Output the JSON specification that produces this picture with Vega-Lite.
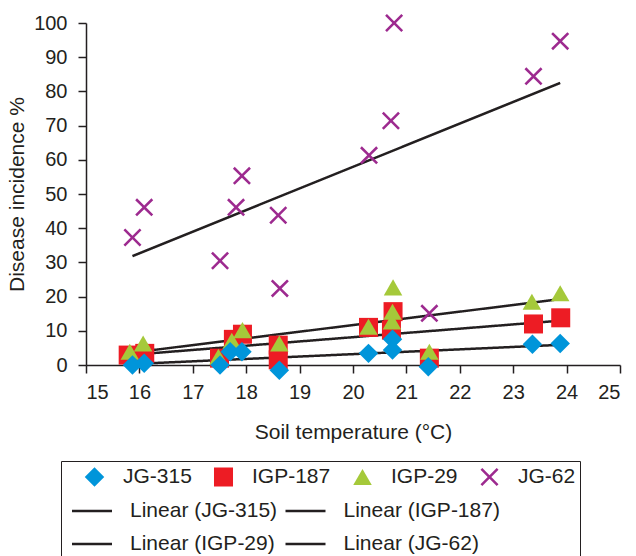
{
  "$schema": "https://vega.github.io/schema/vega-lite/v6.json",
  "width": 534,
  "height": 342,
  "autosize": {"type": "none"},
  "padding": {"left": 86, "top": 23, "right": 16, "bottom": 191},
  "background": "white",
  "config": {
    "font": "Liberation Sans",
    "view": {"stroke": null},
    "axis": {
      "grid": false,
      "domainColor": "#231f20",
      "domainWidth": 1.5,
      "tickColor": "#231f20",
      "tickWidth": 1.5,
      "tickSize": 8,
      "labelFontSize": 20,
      "labelColor": "#231f20",
      "titleFontSize": 21,
      "titleFontWeight": "normal",
      "titleColor": "#231f20"
    }
  },
  "data": {
    "values": [
      {"series": "IGP-187", "trend": "Linear (IGP-187)", "temp": 15.79, "incidence": 2.9},
      {"series": "IGP-187", "trend": "Linear (IGP-187)", "temp": 16.10, "incidence": 3.4},
      {"series": "IGP-187", "trend": "Linear (IGP-187)", "temp": 17.50, "incidence": 2.0},
      {"series": "IGP-187", "trend": "Linear (IGP-187)", "temp": 17.76, "incidence": 7.5},
      {"series": "IGP-187", "trend": "Linear (IGP-187)", "temp": 17.93, "incidence": 9.0},
      {"series": "IGP-187", "trend": "Linear (IGP-187)", "temp": 18.60, "incidence": 5.8},
      {"series": "IGP-187", "trend": "Linear (IGP-187)", "temp": 18.60, "incidence": 1.5},
      {"series": "IGP-187", "trend": "Linear (IGP-187)", "temp": 20.29, "incidence": 11.0},
      {"series": "IGP-187", "trend": "Linear (IGP-187)", "temp": 20.75, "incidence": 15.6},
      {"series": "IGP-187", "trend": "Linear (IGP-187)", "temp": 20.72, "incidence": 10.2},
      {"series": "IGP-187", "trend": "Linear (IGP-187)", "temp": 21.43, "incidence": 2.0},
      {"series": "IGP-187", "trend": "Linear (IGP-187)", "temp": 23.38, "incidence": 12.0},
      {"series": "IGP-187", "trend": "Linear (IGP-187)", "temp": 23.89, "incidence": 13.8},
      {"series": "IGP-29", "trend": "Linear (IGP-29)", "temp": 15.82, "incidence": 3.9},
      {"series": "IGP-29", "trend": "Linear (IGP-29)", "temp": 16.07, "incidence": 6.3},
      {"series": "IGP-29", "trend": "Linear (IGP-29)", "temp": 17.48, "incidence": 2.4},
      {"series": "IGP-29", "trend": "Linear (IGP-29)", "temp": 17.73, "incidence": 7.1},
      {"series": "IGP-29", "trend": "Linear (IGP-29)", "temp": 17.93, "incidence": 10.2},
      {"series": "IGP-29", "trend": "Linear (IGP-29)", "temp": 18.62, "incidence": 6.3},
      {"series": "IGP-29", "trend": "Linear (IGP-29)", "temp": 20.29, "incidence": 11.2},
      {"series": "IGP-29", "trend": "Linear (IGP-29)", "temp": 20.75, "incidence": 22.7},
      {"series": "IGP-29", "trend": "Linear (IGP-29)", "temp": 20.74, "incidence": 15.6},
      {"series": "IGP-29", "trend": "Linear (IGP-29)", "temp": 20.73, "incidence": 12.7},
      {"series": "IGP-29", "trend": "Linear (IGP-29)", "temp": 21.43, "incidence": 3.9},
      {"series": "IGP-29", "trend": "Linear (IGP-29)", "temp": 23.35, "incidence": 18.5},
      {"series": "IGP-29", "trend": "Linear (IGP-29)", "temp": 23.88, "incidence": 21.0},
      {"series": "JG-315", "trend": "Linear (JG-315)", "temp": 15.87, "incidence": 0.0},
      {"series": "JG-315", "trend": "Linear (JG-315)", "temp": 16.09, "incidence": 0.5},
      {"series": "JG-315", "trend": "Linear (JG-315)", "temp": 17.51, "incidence": 0.0},
      {"series": "JG-315", "trend": "Linear (JG-315)", "temp": 17.70, "incidence": 3.9},
      {"series": "JG-315", "trend": "Linear (JG-315)", "temp": 17.92, "incidence": 3.9},
      {"series": "JG-315", "trend": "Linear (JG-315)", "temp": 18.62, "incidence": -1.5},
      {"series": "JG-315", "trend": "Linear (JG-315)", "temp": 20.29, "incidence": 3.4},
      {"series": "JG-315", "trend": "Linear (JG-315)", "temp": 20.74, "incidence": 7.5},
      {"series": "JG-315", "trend": "Linear (JG-315)", "temp": 20.74, "incidence": 4.4},
      {"series": "JG-315", "trend": "Linear (JG-315)", "temp": 21.41, "incidence": -0.5},
      {"series": "JG-315", "trend": "Linear (JG-315)", "temp": 23.36, "incidence": 6.1},
      {"series": "JG-315", "trend": "Linear (JG-315)", "temp": 23.88, "incidence": 6.3},
      {"series": "JG-62", "trend": "Linear (JG-62)", "temp": 15.87, "incidence": 37.3},
      {"series": "JG-62", "trend": "Linear (JG-62)", "temp": 16.09, "incidence": 46.1},
      {"series": "JG-62", "trend": "Linear (JG-62)", "temp": 17.51, "incidence": 30.5},
      {"series": "JG-62", "trend": "Linear (JG-62)", "temp": 17.81, "incidence": 46.1},
      {"series": "JG-62", "trend": "Linear (JG-62)", "temp": 17.92, "incidence": 55.3},
      {"series": "JG-62", "trend": "Linear (JG-62)", "temp": 18.60, "incidence": 43.8},
      {"series": "JG-62", "trend": "Linear (JG-62)", "temp": 18.63, "incidence": 22.4},
      {"series": "JG-62", "trend": "Linear (JG-62)", "temp": 20.30, "incidence": 61.3},
      {"series": "JG-62", "trend": "Linear (JG-62)", "temp": 20.71, "incidence": 71.4},
      {"series": "JG-62", "trend": "Linear (JG-62)", "temp": 20.77, "incidence": 100.0},
      {"series": "JG-62", "trend": "Linear (JG-62)", "temp": 21.43, "incidence": 15.1},
      {"series": "JG-62", "trend": "Linear (JG-62)", "temp": 23.38, "incidence": 84.4},
      {"series": "JG-62", "trend": "Linear (JG-62)", "temp": 23.88, "incidence": 94.7}
    ]
  },
  "encoding": {
    "x": {
      "field": "temp", "type": "quantitative",
      "scale": {"domain": [15, 25], "nice": false, "zero": false},
      "axis": {"title": "Soil temperature (°C)", "values": [15, 16, 17, 18, 19, 20, 21, 22, 23, 24, 25], "format": "d", "labelPadding": 9, "titlePadding": 19, "labelOverlap": false}
    },
    "y": {
      "field": "incidence", "type": "quantitative",
      "scale": {"domain": [0, 100], "nice": false},
      "axis": {"title": "Disease incidence %", "values": [0, 10, 20, 30, 40, 50, 60, 70, 80, 90, 100], "format": "d", "labelPadding": 11, "titlePadding": 6, "labelOverlap": false}
    }
  },
  "layer": [
    {
      "transform": [{"regression": "incidence", "on": "temp", "groupby": ["trend"], "method": "linear"}],
      "mark": {"type": "line", "color": "#231f20", "strokeWidth": 2.5},
      "encoding": {
        "strokeDash": {
          "field": "trend", "type": "nominal",
          "scale": {
            "domain": ["Linear (JG-315)", "Linear (IGP-187)", "Linear (IGP-29)", "Linear (JG-62)"],
            "range": [[1, 0], [1, 0], [1, 0], [1, 0]]
          },
          "legend": {
            "orient": "none", "legendX": -15.5, "legendY": 477.5,
            "title": null, "direction": "horizontal", "columns": 2,
            "symbolType": "stroke", "symbolSize": 1600,
            "symbolStrokeColor": "#231f20", "symbolStrokeWidth": 2.5,
            "labelFontSize": 21, "labelColor": "#231f20", "labelOffset": 16.5,
            "columnPadding": 6.5, "rowPadding": 11, "clipHeight": 21,
            "padding": 0, "labelLimit": 300
          }
        }
      }
    },
    {
      "mark": {"type": "point", "filled": true, "opacity": 1},
      "encoding": {
        "color": {
          "field": "series", "type": "nominal",
          "scale": {"domain": ["JG-315", "IGP-187", "IGP-29", "JG-62"], "range": ["#0095da", "#ed1c24", "#a5c93a", "#9d2a8f"]},
          "legend": {
            "orient": "none", "legendX": -25, "legendY": 438,
            "direction": "horizontal", "columns": 4,
            "title": "\u00a0\u00a0\u00a0\u00a0\u00a0\u00a0\u00a0\u00a0\u00a0\u00a0\u00a0\u00a0\u00a0\u00a0\u00a0\u00a0\u00a0\u00a0\u00a0\u00a0\u00a0\u00a0\u00a0\u00a0\u00a0\u00a0\u00a0\u00a0\u00a0\u00a0\u00a0\u00a0\u00a0\u00a0\u00a0\u00a0",
            "titleOrient": "bottom", "titleFontSize": 70, "titlePadding": 0, "titleLimit": 1000,
            "padding": 4, "strokeColor": "#231f20",
            "symbolOffset": 19, "labelOffset": 18, "columnPadding": 2,
            "labelFontSize": 21, "labelColor": "#231f20", "clipHeight": 24, "symbolOpacity": 1
          }
        },
        "shape": {
          "field": "series", "type": "nominal",
          "scale": {"domain": ["JG-315", "IGP-187", "IGP-29", "JG-62"], "range": ["diamond", "square", "triangle-up", "M-1,-0.8L-0.8,-1L0,-0.2L0.8,-1L1,-0.8L0.2,0L1,0.8L0.8,1L0,0.2L-0.8,1L-1,0.8L-0.2,0Z"]}
        },
        "size": {
          "field": "series", "type": "nominal",
          "scale": {"domain": ["JG-315", "IGP-187", "IGP-29", "JG-62"], "range": [380, 324, 600, 289]}
        }
      }
    }
  ]
}
